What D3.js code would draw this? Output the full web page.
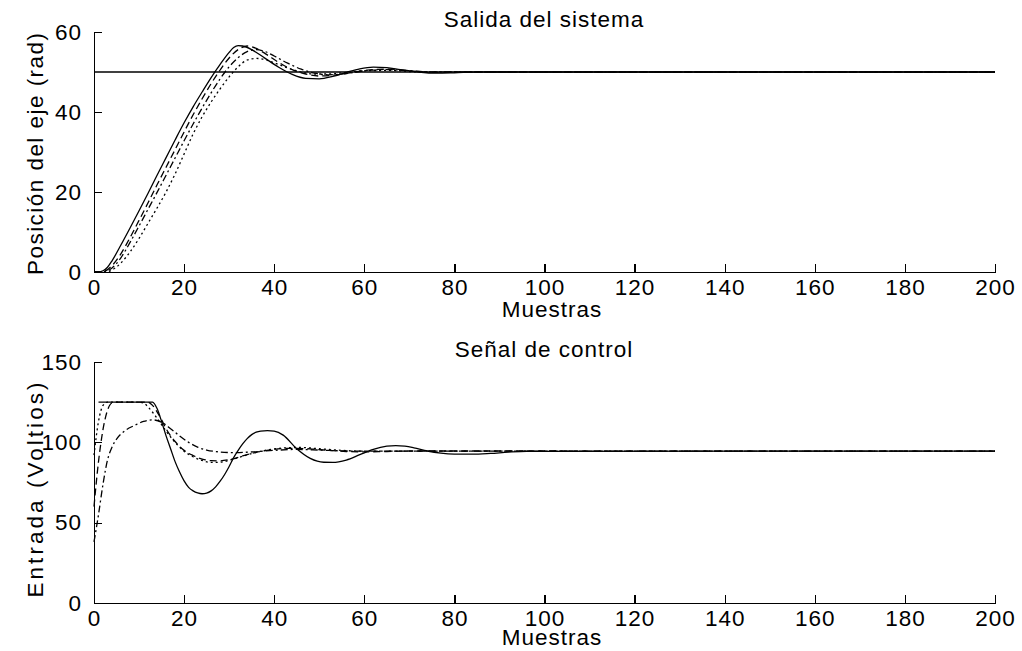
<!DOCTYPE html>
<html>
<head>
<meta charset="utf-8">
<script src="https://cdn.jsdelivr.net/npm/d3@7/dist/d3.min.js"></script>
<style>
  html, body { margin: 0; padding: 0; background: #fff; }
  svg { display: block; }
  text { font-family: "Liberation Sans", Arial, sans-serif; fill: #000; }
</style>
</head>
<body>
<svg id="chart" width="1022" height="651"></svg>
<script>
// ---- Ticks ----
const sampleTicks = [0, 20, 40, 60, 80, 100, 120, 140, 160, 180, 200];
const posTicks = [0, 20, 40, 60];
const ctrlTicks = [0, 50, 100, 150];

// ---- Setpoint ----
const refX = [0, 200];
const refY = [50, 50];

// ---- Shaft position (rad), four runs ----
const posA_x = [0,1,2,3,4,6,8,10,12,14,16,18,20,22,24,26,28,30,31,32,33,35,38,41,44,47,50,53,56,59,62,65,68,72,76,80,85,90,200];
const posA_y = [0,0,0.3,1.2,2.8,6.8,11,15.3,19.7,24.2,28.6,33,37.3,41.3,45,48.6,51.9,54.9,56.1,56.6,56.5,55.6,53.4,51.2,49.4,48.4,48.3,48.9,49.9,50.8,51.2,51.1,50.6,50,49.7,49.8,50,50,50];

const posB_x = [0,1,2,3,4,6,8,10,12,14,16,18,20,22,24,26,28,30,32,34,36,38,41,44,47,50,54,58,62,66,70,75,80,200];
const posB_y = [0,0,0.1,0.6,1.6,4.6,8.6,12.9,17.3,21.8,26.2,30.6,35,39.3,43.3,47.1,50.5,53.5,55.6,56.5,55.9,54.6,52.4,50.6,49.5,49,49.3,50,50.6,50.7,50.3,49.9,50,50];

const posC_x = [0,2,3,4,6,8,10,12,14,16,18,20,22,24,26,28,30,32,34,36,38,40,43,46,49,52,56,60,65,70,76,200];
const posC_y = [0,0,0.3,1,3.6,7.4,11.5,15.7,19.9,24.2,28.5,32.8,37,41,44.8,48.3,51.3,53.6,55.1,55.6,55.1,54,52.2,50.7,49.7,49.3,49.6,50.3,50.6,50.3,50,50];

const posD_x = [0,2,3,4,6,8,10,12,14,16,18,20,22,24,26,28,30,32,34,36,38,40,43,46,49,52,56,60,66,72,200];
const posD_y = [0,0,0.1,0.5,2.3,5,8.4,12.2,16,20,24.5,29.5,34.5,38.8,42.5,45.8,48.8,51.3,53,53.4,53.1,52.3,51,50,49.5,49.5,49.9,50.3,50.4,50,50];

// ---- Control signal (V), four runs ----
const ctrlA_x = [1,13,14,15,16,17,18,19,20,21,22,23,24,25,26,27,28,29,30,31,32,33,34,35,36,37,38.5,40,42,45,48,51,53,56,59,62,65,67,69,71,74,77,80,84,88,92,96,200];
const ctrlA_y = [125,125,121,113,104,96,88,81.5,76,72,69.8,68.5,68,68.4,69.8,72.3,75.8,80,85,90.5,95,99,102.3,104.8,106.3,107,107.3,107,104.5,96,90,87.6,87.5,89,92.3,95.6,97.6,98,97.6,96.6,94.6,93.3,92.7,92.6,93.1,93.9,94.4,94.5];

const ctrlB_x = [0,1,2,3,4,5,12,13,14,15,16,18,20,22,24,26,28,30,33,36,40,44,48,52,56,60,65,70,200];
const ctrlB_y = [60,88,108,120,124.5,125,125,123,119,114,108.5,100.5,95,91.8,89.6,88.6,88.5,89.2,91.5,93.8,95.6,96.3,95.9,95,94.3,94,94.3,94.6,94.5];

const ctrlC_x = [0,1,2,3,4,5,7,9,11,13,15,17,19,21,23,25,28,31,35,40,45,50,55,60,200];
const ctrlC_y = [38,55,74,89,97,102,107.5,110.5,113,114,112.5,108.5,104,100,97,95.2,94,93.6,94,95,95.6,95.2,94.7,94.5,94.5];

const ctrlD_x = [0,1,2,3,10,11,12,14,16,18,20,22,24,26,28,30,32,35,38,42,46,50,55,60,200];
const ctrlD_y = [92,113,123,125,125,124.5,122,115,107,100,94.5,91,88.7,87.5,87.6,88.8,90.5,93,95,96.5,96.8,96,95,94.5,94.5];

const svg = d3.select("#chart");
svg.append("rect").attr("width", 1022).attr("height", 651).attr("fill", "#fff");

const FONT = 22.5;
const styles = {
  ref:    { dash: null },
  solid:  { dash: null },
  dashed: { dash: "7,4" },
  dashdot:{ dash: "7,3,2,3" },
  dotted: { dash: "2,3" }
};

function zip(xs, ys) { return xs.map((x, i) => [x, ys[i]]); }

function panel(opts) {
  const x = d3.scaleLinear().domain([0, 200]).range([94, 995]);
  const y = d3.scaleLinear().domain(opts.yDomain).range([opts.bottom, opts.top]);
  const g = svg.append("g");

  const line = d3.line()
    .x(d => x(d[0]))
    .y(d => y(d[1]))
    .curve(d3.curveMonotoneX);

  opts.series.forEach(s => {
    g.append("path")
      .attr("d", line(zip(s.xs, s.ys)))
      .attr("fill", "none")
      .attr("stroke", "#000")
      .attr("stroke-width", 1.3)
      .attr("stroke-dasharray", styles[s.style].dash);
  });

  const xAxis = g.append("g")
    .attr("transform", `translate(0,${opts.bottom})`)
    .call(d3.axisBottom(x).tickValues(sampleTicks).tickSizeInner(-8).tickSizeOuter(0).tickPadding(7));
  const yAxis = g.append("g")
    .attr("transform", "translate(94,0)")
    .call(d3.axisLeft(y).tickValues(opts.yTicks).tickSizeInner(-8).tickSizeOuter(0).tickPadding(12));

  [xAxis, yAxis].forEach(a => {
    a.attr("font-size", null).attr("font-family", null);
    a.selectAll("path, line").attr("stroke", "#000").attr("stroke-width", 1.2).attr("shape-rendering", "crispEdges");
    a.selectAll("text").attr("fill", "#000").style("font-size", FONT + "px").style("letter-spacing", "1px");
  });

  g.append("text")
    .attr("x", 544).attr("y", opts.top - 5)
    .attr("text-anchor", "middle")
    .style("font-size", FONT + "px").style("letter-spacing", "1px")
    .text(opts.title);

  g.append("text")
    .attr("x", 552).attr("y", opts.bottom + opts.xLabelGap)
    .attr("text-anchor", "middle")
    .style("font-size", FONT + "px").style("letter-spacing", "1px")
    .text("Muestras");

  g.append("text")
    .attr("transform", `translate(43,${opts.yLabelMid}) rotate(-90)`)
    .attr("text-anchor", "middle")
    .attr("textLength", opts.yLabelLen)
    .attr("lengthAdjust", "spacing")
    .style("font-size", FONT + "px")
    .text(opts.yLabel);
}

panel({
  top: 32, bottom: 272,
  yDomain: [0, 60], yTicks: posTicks,
  title: "Salida del sistema",
  yLabel: "Posición del eje (rad)",
  yLabelMid: 154, yLabelLen: 242,
  xLabelGap: 45,
  series: [
    { xs: refX, ys: refY, style: "ref" },
    { xs: posA_x, ys: posA_y, style: "solid" },
    { xs: posB_x, ys: posB_y, style: "dashed" },
    { xs: posC_x, ys: posC_y, style: "dashdot" },
    { xs: posD_x, ys: posD_y, style: "dotted" }
  ]
});

panel({
  top: 362, bottom: 603,
  yDomain: [0, 150], yTicks: ctrlTicks,
  title: "Señal de control",
  yLabel: "Entrada (Voltios)",
  yLabelMid: 490, yLabelLen: 215,
  xLabelGap: 42,
  series: [
    { xs: ctrlA_x, ys: ctrlA_y, style: "solid" },
    { xs: ctrlB_x, ys: ctrlB_y, style: "dashed" },
    { xs: ctrlC_x, ys: ctrlC_y, style: "dashdot" },
    { xs: ctrlD_x, ys: ctrlD_y, style: "dotted" }
  ]
});
</script>
</body>
</html>
